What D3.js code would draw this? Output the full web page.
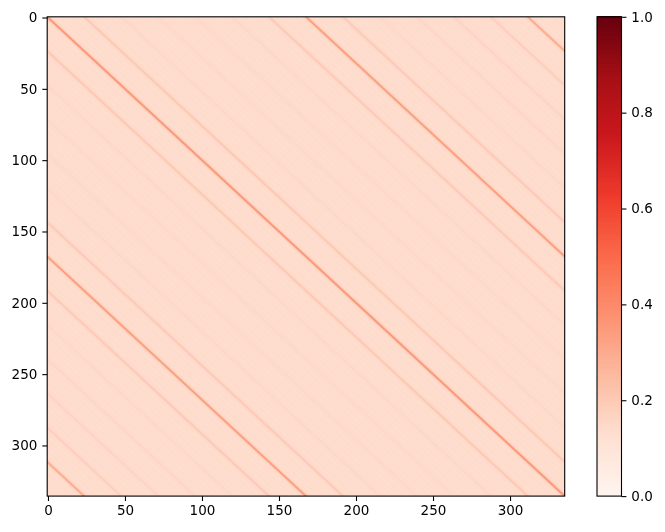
<!DOCTYPE html>
<html>
<head>
<meta charset="utf-8">
<script src="https://cdn.jsdelivr.net/npm/d3@7"></script>
<style>
  html, body { margin: 0; padding: 0; background: #fff; }
  #wrap { position: relative; width: 665px; height: 532px; }
  #cv, svg { position: absolute; left: 0; top: 0; }
  text { font-family: "DejaVu Sans", sans-serif; }
</style>
</head>
<body>
<div id="wrap">
  <canvas id="cv" width="665" height="532"></canvas>
  <svg id="sv" width="665" height="532"></svg>
</div>
<script>
// ---------------- data ----------------
const N = 336;                                   // matrix size (rows = cols)
const xTickValues = [0, 50, 100, 150, 200, 250, 300];
const yTickValues = [0, 50, 100, 150, 200, 250, 300];
const cbTickValues = [0.0, 0.2, 0.4, 0.6, 0.8, 1.0];
const baseLevel = 0.14;                          // background value
// value on diagonals at lag = k*24 (k = 0..14)
const dayLagPeak = [0.44, 0.23, 0.16, 0.155, 0.155, 0.16, 0.22, 0.41, 0.22, 0.16, 0.165, 0.175, 0.2, 0.35, 0.2];
// fraction of the peak kept at hour offset h (0..12) from the nearest day-lag
const hourSpread = [1, 0.3, 0.05, 0.01, 0, 0, 0, 0, 0, 0, 0, 0, 0];
// small additive offsets by hour offset (lighter streaks)
const hourDip = [0, 0, 0, 0, 0, -0.004, -0.008, 0, 0.004, 0, -0.01, 0, -0.006];
// Reds colormap stops
const redsStops = ["#fff5f0", "#fee0d2", "#fcbba1", "#fc9272", "#fb6a4a", "#ef3b2c", "#cb181d", "#a50f15", "#67000d"];

// ---------------- build matrix ----------------
function cellValue(i, j) {
  const d = Math.abs(i - j);
  const k = Math.round(d / 24);
  const h = Math.abs(d - 24 * k);
  const peak = dayLagPeak[Math.min(k, dayLagPeak.length - 1)];
  return baseLevel + (peak - baseLevel) * hourSpread[h] + hourDip[h];
}
const matrix = d3.range(N).map(i => d3.range(N).map(j => cellValue(i, j)));

// ---------------- layout ----------------
const L = 47.2, T = 16.8, W = 517.5, H = 479.3;
const cbL = 597, cbW = 24.5;

const color = d3.scaleLinear()
  .domain(d3.range(redsStops.length).map(i => i / (redsStops.length - 1)))
  .range(redsStops)
  .interpolate(d3.interpolateRgb)
  .clamp(true);

// cell scales in image space (one pixel per cell), then resampled onto the axes
const xc = d3.scaleBand().domain(d3.range(N)).range([0, N]);
const yc = d3.scaleBand().domain(d3.range(N)).range([0, N]);
const xl = d3.scaleLinear().domain([-0.5, N - 0.5]).range([L, L + W]);
const yl = d3.scaleLinear().domain([-0.5, N - 0.5]).range([T, T + H]);
const cbScale = d3.scaleLinear().domain([0, 1]).range([T + H, T]);

// ---------------- heatmap ----------------
const off = document.createElement("canvas");
off.width = N; off.height = N;
const octx = off.getContext("2d");
for (let i = 0; i < N; i++) {
  for (let j = 0; j < N; j++) {
    octx.fillStyle = color(matrix[i][j]);
    octx.fillRect(xc(j), yc(i), xc.bandwidth(), yc.bandwidth());
  }
}
const ctx = document.getElementById("cv").getContext("2d");
ctx.imageSmoothingEnabled = true;
ctx.imageSmoothingQuality = "high";
ctx.drawImage(off, xl(-0.5), yl(-0.5), xl(N - 0.5) - xl(-0.5), yl(N - 0.5) - yl(-0.5));

// colorbar
const cbSteps = d3.range(0, 1, 1 / 256);
const cbCell = H / 256;
cbSteps.forEach(v => {
  const yTop = cbScale(v + 1 / 256);
  ctx.fillStyle = color(v + 0.5 / 256);
  ctx.fillRect(cbL, Math.floor(yTop), cbW, Math.ceil(cbCell) + 1);
});
ctx.clearRect(cbL, 0, cbW, Math.floor(T));
ctx.clearRect(cbL, Math.ceil(T + H), cbW, 40);

// ---------------- axes ----------------
const svg = d3.select("#sv");
const tickLen = 4.9, pad = 4.9;

const gx = svg.append("g").attr("transform", `translate(0,${T + H})`)
  .call(d3.axisBottom(xl).tickValues(xTickValues).tickSize(tickLen).tickPadding(pad).tickFormat(d3.format("d")));
const gy = svg.append("g").attr("transform", `translate(${L},0)`)
  .call(d3.axisLeft(yl).tickValues(yTickValues).tickSize(tickLen).tickPadding(pad).tickFormat(d3.format("d")));
const gc = svg.append("g").attr("transform", `translate(${cbL + cbW},0)`)
  .call(d3.axisRight(cbScale).tickValues(cbTickValues).tickSize(tickLen).tickPadding(pad).tickFormat(d3.format(".1f")));

[gx, gy, gc].forEach(g => {
  g.attr("font-family", "'DejaVu Sans', sans-serif").attr("font-size", 13.5);
  g.select(".domain").remove();
  g.selectAll(".tick line").attr("stroke", "#000").attr("stroke-width", 1.1);
  g.selectAll(".tick text").attr("fill", "#000");
});

// frames
svg.append("rect").attr("x", L).attr("y", T).attr("width", W).attr("height", H)
  .attr("fill", "none").attr("stroke", "#000").attr("stroke-width", 1.1);
svg.append("rect").attr("x", cbL).attr("y", T).attr("width", cbW).attr("height", H)
  .attr("fill", "none").attr("stroke", "#000").attr("stroke-width", 1.1);
</script>
</body>
</html>
